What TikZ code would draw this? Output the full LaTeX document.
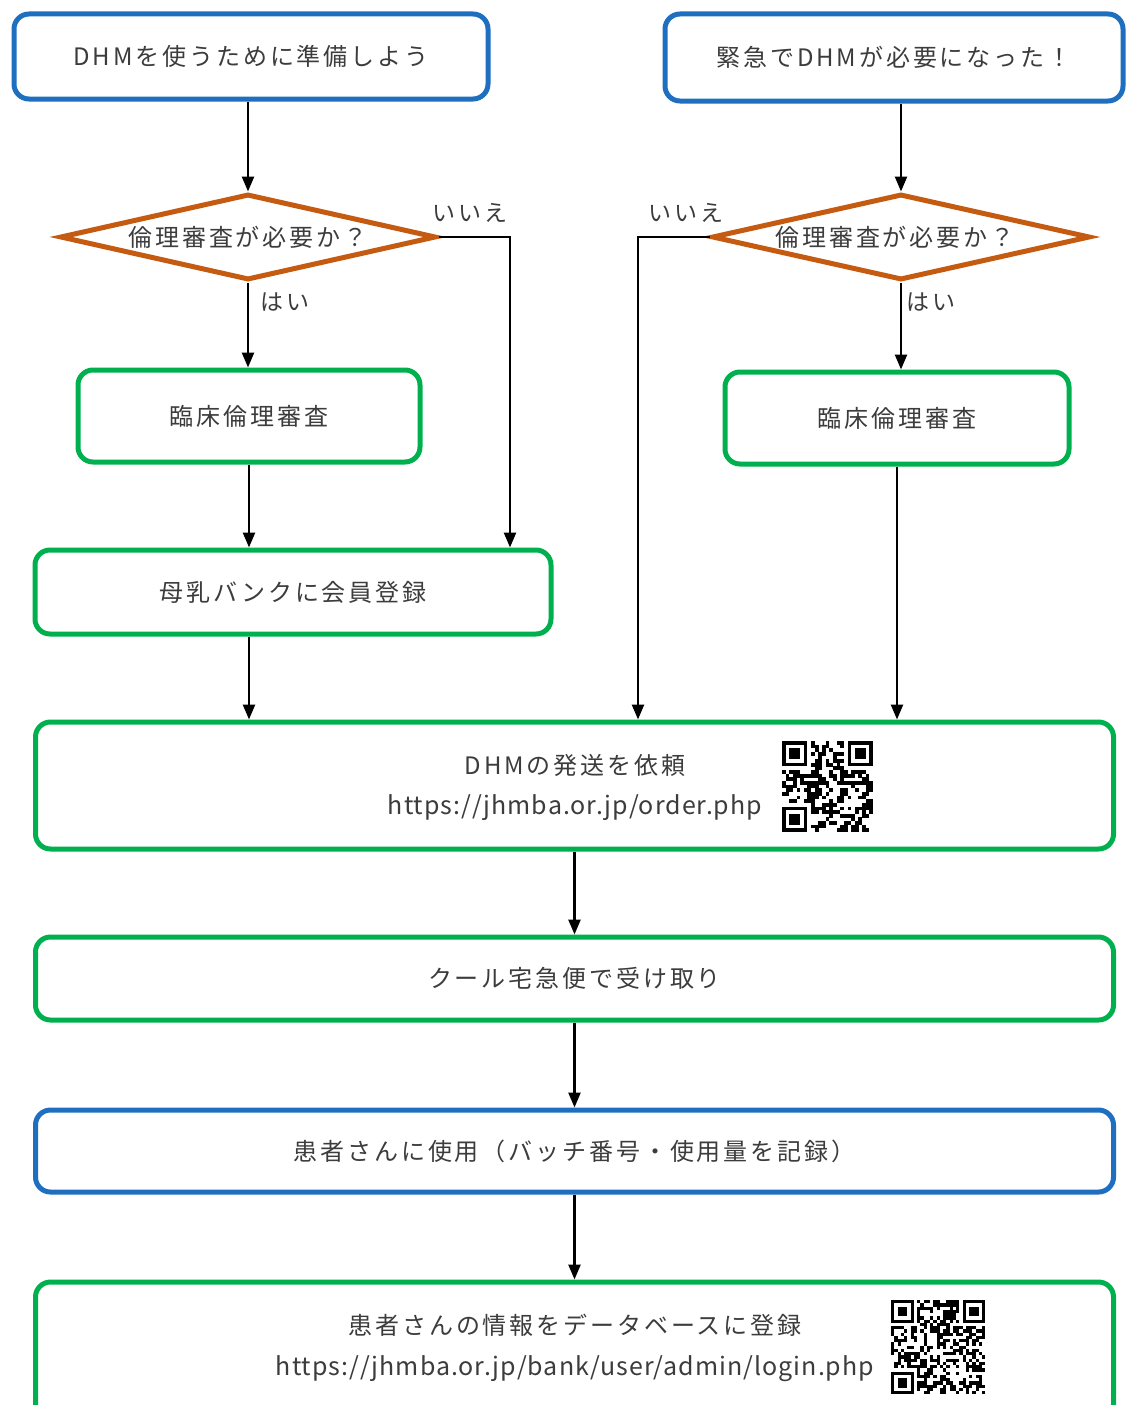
\documentclass[tikz,border=0pt]{standalone}
\usepackage{fontspec}
\setmainfont{Noto Sans CJK JP}
\newfontfamily\jpls[LetterSpace=12]{Noto Sans CJK JP}
\newfontfamily\urlfont[LetterSpace=4]{Noto Sans CJK JP}
\usetikzlibrary{shapes.geometric,arrows.meta,calc}
\definecolor{bbl}{HTML}{1F6FC0}
\definecolor{bgr}{HTML}{00B04F}
\definecolor{bor}{HTML}{C55A11}
\definecolor{txt}{HTML}{3C3C3C}
\tikzset{
  bx/.style={rectangle, rounded corners=15pt, line width=5pt, fill=white, inner sep=0pt,
    font=\jpls\fontsize{24}{28}\selectfont, text=txt},
  bluebox/.style={bx, draw=bbl},
  greenbox/.style={bx, draw=bgr},
  decision/.style={diamond, aspect=4.4, draw=bor, line width=5pt, inner sep=0pt, fill=white,
    font=\jpls\fontsize{24}{28}\selectfont, text=txt},
  arr/.style={-{Triangle[length=15pt,width=12pt]}, line width=2.5pt, black},
  lbl/.style={font=\jpls\fontsize{23}{26}\selectfont, text=txt, inner sep=0pt},
  jtxt/.style={font=\jpls\fontsize{24}{28}\selectfont, text=txt, inner sep=0pt},
  urltxt/.style={font=\urlfont\fontsize{25}{28}\selectfont, text=txt, inner sep=0pt}
}
\newcommand{\myqr}[5]{% x, y, max index, module size, seed
  \begin{scope}[shift={(#1,#2)}, x=#4pt, y=-#4pt]
    \pgfmathsetseed{#5}
    \foreach \i in {0,...,#3}{
      \foreach \j in {0,...,#3}{
        \pgfmathsetmacro\qrskip{int((\i<8 && \j<8) || (\i>#3-8 && \j<8) || (\i<8 && \j>#3-8))}
        \pgfmathsetmacro\qrbit{int(rnd*2)}
        \ifnum\qrskip=0
          \ifnum\qrbit=1
            \fill[black] (\i,\j) rectangle ++(1.03,1.03);
          \fi
        \fi
      }
    }
    \foreach \ox/\oy in {0/0, #3-6/0, 0/#3-6}{
      \fill[black] (\ox,\oy) rectangle ++(7,7);
      \fill[white] (\ox+1,\oy+1) rectangle ++(5,5);
      \fill[black] (\ox+2,\oy+2) rectangle ++(3,3);
    }
  \end{scope}
}
\begin{document}
\begin{tikzpicture}[x=1pt, y=-1pt]
\useasboundingbox (0,0) rectangle (1126,1405);
\fill[white] (0,0) rectangle (1126,1405);
\clip (0,0) rectangle (1126,1405);

% start boxes
\node[bluebox, minimum width=474pt, minimum height=85pt] (A) at (251,56.5) {DHMを使うために準備しよう};
\node[bluebox, minimum width=458pt, minimum height=87pt] (B) at (894,57.5) {緊急でDHMが必要になった！};

% decisions
\node[decision, minimum width=376pt, minimum height=86pt] (D1) at (248,237) {\makebox[0pt]{倫理審査が必要か？}};
\node[decision, minimum width=378pt, minimum height=86pt] (D2) at (901,237) {\makebox[0pt]{\hspace*{-12pt}倫理審査が必要か？}};

% review boxes
\node[greenbox, minimum width=342pt, minimum height=92pt] (C1) at (249,416) {臨床倫理審査};
\node[greenbox, minimum width=344pt, minimum height=92pt] (C2) at (897,418) {臨床倫理審査};

% membership
\node[greenbox, minimum width=516pt, minimum height=84pt] (M) at (293,592) {母乳バンクに会員登録};

% order
\node[greenbox, minimum width=1078pt, minimum height=127pt] (E) at (574.5,785.5) {};
\node[jtxt] (E1) at (575,765) {DHMの発送を依頼};
\node[urltxt] (E2) at (575,808) {https://jhmba.or.jp/order.php};
\myqr{782}{741}{24}{3.64}{17}

% receive
\node[greenbox, minimum width=1078pt, minimum height=83pt] (F) at (574.5,978.5) {クール宅急便で受け取り};

% use
\node[bluebox, minimum width=1078pt, minimum height=82pt] (G) at (574.5,1151) {患者さんに使用（バッチ番号・使用量を記録）};

% database
\node[greenbox, minimum width=1078pt, minimum height=138pt] (H) at (574.5,1351) {};
\node[jtxt] (H1) at (575,1325) {患者さんの情報をデータベースに登録};
\node[urltxt] (H2) at (575,1369) {https://jhmba.or.jp/bank/user/admin/login.php};
\myqr{891}{1300}{28}{3.25}{42}

% connectors
\draw[arr] (D1.north |- A.south) -- (D1.north);
\draw[arr] (D1.south) -- (D1.south |- C1.north);
\draw[arr] (D1.east) -| ([xshift=217pt]M.north);
\draw[arr] (C1.south) -- (C1.south |- M.north);
\draw[arr] (C1.south |- M.south) -- (C1.south |- E.north);

\draw[arr] (D2.north |- B.south) -- (D2.north);
\draw[arr] (D2.south) -- (D2.south |- C2.north);
\draw[arr] (D2.west) -| ([xshift=63.5pt]E.north);
\draw[arr] (C2.south) -- (C2.south |- E.north);

\draw[arr] (E.south) -- (E.south |- F.north);
\draw[arr] (F.south) -- (F.south |- G.north);
\draw[arr] (G.south) -- (G.south |- H.north);

% labels
\node[lbl] (y1) at (285,302) {はい};
\node[lbl] (n1) at (470,213) {いいえ};
\node[lbl] (y2) at (931,302) {はい};
\node[lbl] (n2) at (686,213) {いいえ};
\end{tikzpicture}
\end{document}
